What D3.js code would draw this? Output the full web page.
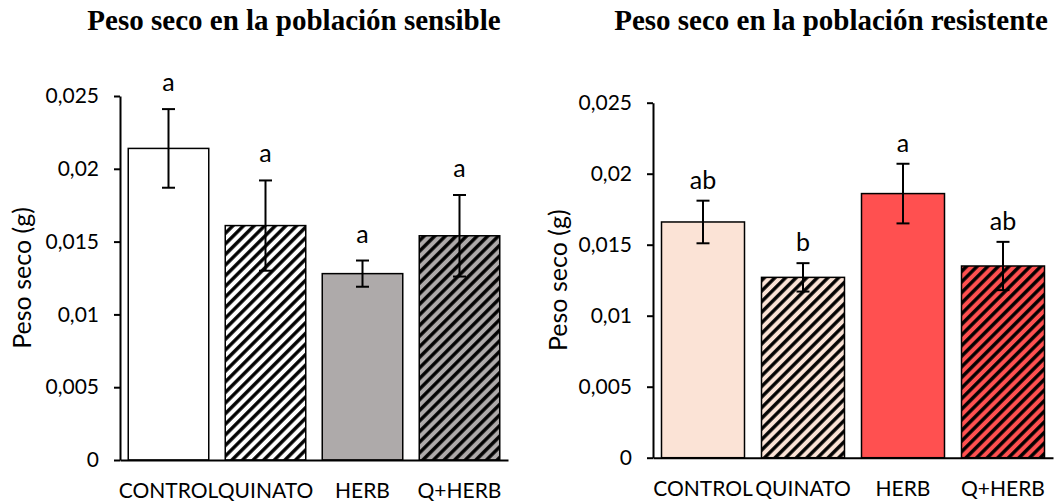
<!DOCTYPE html>
<html>
<head>
<meta charset="utf-8">
<script src="https://cdn.jsdelivr.net/npm/d3@7"></script>
<style>
  body { margin: 0; background: #fff; }
  svg { display: block; }
</style>
</head>
<body>
<div id="chart"></div>
<script>
// data
var categories = ["CONTROL", "QUINATO", "HERB", "Q+HERB"]
var sensibleMeans = [0.0214, 0.0161, 0.0128, 0.0154]
var sensibleErrors = [0.0027, 0.0031, 0.0009, 0.0028]
var sensibleLetters = ["a", "a", "a", "a"]
var resistenteMeans = [0.0166, 0.0127, 0.0186, 0.0135]
var resistenteErrors = [0.0015, 0.0010, 0.0021, 0.0017]
var resistenteLetters = ["ab", "b", "a", "ab"]
var yTicks = [0, 0.005, 0.01, 0.015, 0.02, 0.025]

var width = 1054, height = 504

const svg = d3.select("#chart")
    .append("svg")
    .attr("width", width)
    .attr("height", height)

// hatch patterns (wide upward diagonal)
var defs = svg.append("defs")
function hatch(id, bg) {
    var p = defs.append("pattern")
        .attr("id", id)
        .attr("patternUnits", "userSpaceOnUse")
        .attr("width", 7.5).attr("height", 7.5)
        .attr("patternTransform", "rotate(45)")
    p.append("rect").attr("width", 7.5).attr("height", 7.5).attr("fill", bg)
    p.append("line")
        .attr("x1", 1.8).attr("y1", 0).attr("x2", 1.8).attr("y2", 7.5)
        .attr("stroke", "#000").attr("stroke-width", 3.4)
}
hatch("hatchWhite", "#ffffff")
hatch("hatchGray", "#aeaaaa")
hatch("hatchPeach", "#fbe3d6")
hatch("hatchRed", "#ff5050")

function drawPanel(opts) {
    var g = svg.append("g")

    var xScale = d3.scaleBand().domain(categories)
        .range([opts.x0, opts.x1])
        .paddingInner(0.17).paddingOuter(0.085)
    var yScale = d3.scaleLinear().domain([0, 0.025]).range([opts.y0, opts.y1])

    // title
    g.append("text")
        .attr("x", opts.titleX).attr("y", 30)
        .attr("text-anchor", "middle")
        .style("font-family", "'Liberation Serif', 'Times New Roman', serif")
        .style("font-weight", "bold")
        .style("font-size", "29px")
        .text(opts.title)

    // bars
    g.selectAll(".bar").data(opts.means).enter().append("rect")
        .attr("class", "bar")
        .attr("x", (d, i) => xScale(categories[i]))
        .attr("y", d => yScale(d))
        .attr("width", xScale.bandwidth())
        .attr("height", d => yScale(0) - yScale(d))
        .attr("fill", (d, i) => opts.fills[i])
        .attr("stroke", "#000")
        .attr("stroke-width", 1.5)

    // error bars + letters
    var capW = 6.5
    opts.means.forEach(function(m, i) {
        var cx = xScale(categories[i]) + xScale.bandwidth() / 2
        var e = opts.errors[i]
        var eb = g.append("g").attr("stroke", "#000").attr("stroke-width", 2)
        eb.append("line").attr("x1", cx).attr("x2", cx).attr("y1", yScale(m - e)).attr("y2", yScale(m + e))
        eb.append("line").attr("x1", cx - capW).attr("x2", cx + capW).attr("y1", yScale(m - e)).attr("y2", yScale(m - e))
        eb.append("line").attr("x1", cx - capW).attr("x2", cx + capW).attr("y1", yScale(m + e)).attr("y2", yScale(m + e))

        g.append("text")
            .attr("x", cx).attr("y", yScale(m + e) - opts.letterGap)
            .attr("text-anchor", "middle")
            .style("font-family", "Lato, 'Open Sans', sans-serif")
            .style("font-size", "25px")
            .text(opts.letters[i])
    })

    // y axis
    const yAxis = g.append("g")
        .attr("transform", "translate(" + opts.x0 + ",0)")
        .call(d3.axisLeft(yScale).tickValues(yTicks).tickSize(6).tickSizeOuter(0).tickPadding(15)
            .tickFormat(d => String(d).replace(".", ",")))
    yAxis.select(".domain").attr("stroke-width", 2)
    yAxis.selectAll(".tick line").attr("stroke-width", 2)
    yAxis.selectAll("text")
        .style("font-family", "Lato, 'Open Sans', sans-serif")
        .style("font-size", "21px")
        .attr("fill", "#000")

    // x axis
    const xAxis = g.append("g")
        .attr("transform", "translate(0," + opts.y0 + ")")
        .call(d3.axisBottom(xScale).tickSize(0).tickSizeOuter(0).tickPadding(23))
    xAxis.select(".domain").attr("stroke-width", 2)
    xAxis.selectAll("text")
        .style("font-family", "Lato, 'Open Sans', sans-serif")
        .style("font-size", "21px")
        .attr("fill", "#000")

    // y label
    g.append("text")
        .attr("transform", "translate(" + opts.labelX + "," + ((opts.y0 + opts.y1) / 2) + ") rotate(-90)")
        .attr("text-anchor", "middle")
        .style("font-family", "Lato, 'Open Sans', sans-serif")
        .style("font-size", "25px")
        .text("Peso seco (g)")
}

drawPanel({
    title: "Peso seco en la población sensible", titleX: 294,
    x0: 120, x1: 508, y0: 460, y1: 96, labelX: 31, letterGap: 18,
    means: sensibleMeans, errors: sensibleErrors, letters: sensibleLetters,
    fills: ["#ffffff", "url(#hatchWhite)", "#aeaaaa", "url(#hatchGray)"]
})
drawPanel({
    title: "Peso seco en la población resistente", titleX: 831,
    x0: 653, x1: 1053, y0: 457.7, y1: 102.7, labelX: 567, letterGap: 12,
    means: resistenteMeans, errors: resistenteErrors, letters: resistenteLetters,
    fills: ["#fbe3d6", "url(#hatchPeach)", "#ff5050", "url(#hatchRed)"]
})
</script>
</body>
</html>
